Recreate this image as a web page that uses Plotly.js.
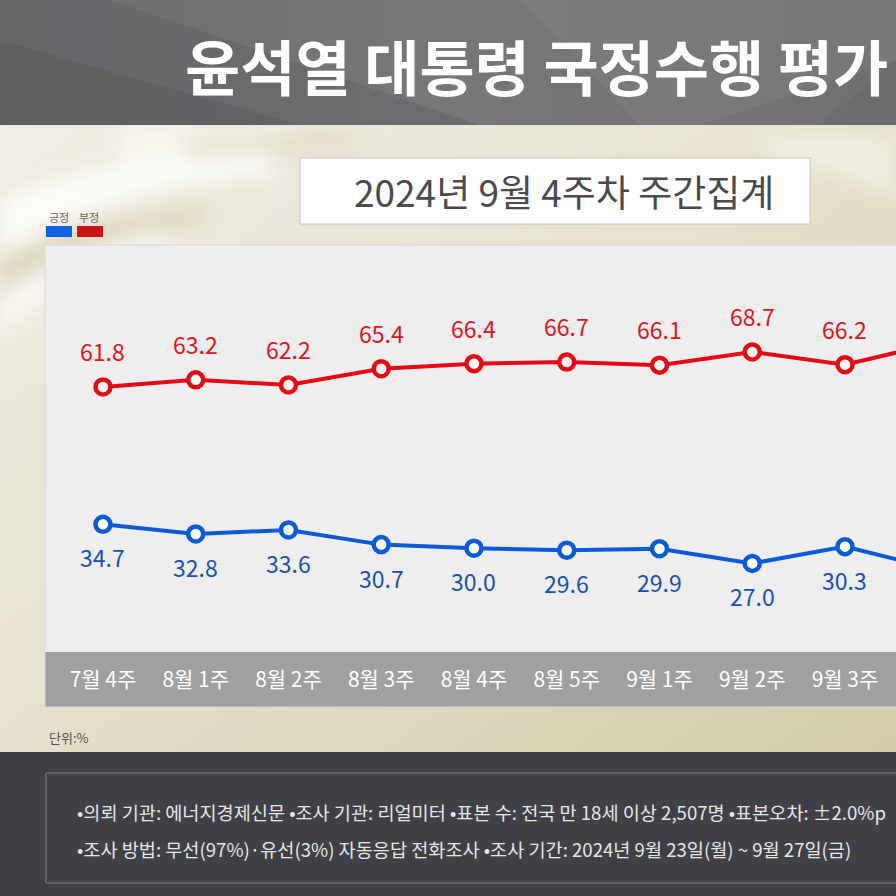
<!DOCTYPE html>
<html>
<head>
<meta charset="utf-8">
<script src="https://cdn.plot.ly/plotly-3.0.1.min.js"></script>
<style>
html,body{margin:0;padding:0;background:#404146;}
#chart{width:896px;height:896px;background-repeat:no-repeat;background-size:896px 896px;}
</style>
</head>
<body>
<div id="chart"></div>
<script>
// ---- data ----
const weeks = ['7월 4주','8월 1주','8월 2주','8월 3주','8월 4주','8월 5주','9월 1주','9월 2주','9월 3주','9월 4주'];
const positive = [34.7, 32.8, 33.6, 30.7, 30.0, 29.6, 29.9, 27.0, 30.3, 25.8];
const negative = [61.8, 63.2, 62.2, 65.4, 66.4, 66.7, 66.1, 68.7, 66.2, 70.5];
const seriesNames = ['긍정', '부정'];
const titleText = '윤석열 대통령 국정수행 평가';
const subtitleText = '2024년 9월 4주차 주간집계';
const unitText = '단위:%';
const noteLines = [
  '•의뢰 기관: 에너지경제신문 •조사 기관: 리얼미터 •표본 수: 전국 만 18세 이상 2,507명 •표본오차: ±2.0%p',
  '•조사 방법: 무선(97%)·유선(3%) 자동응답 전화조사 •조사 기간: 2024년 9월 23일(월) ~ 9월 27일(금)'
];

// ---- background artwork ----
const bgSvg = `<svg xmlns="http://www.w3.org/2000/svg" width="896" height="896" viewBox="0 0 896 896">
<defs>
<linearGradient id="g1" x1="0" y1="0" x2="1" y2="1">
<stop offset="0" stop-color="#f0ede3"/><stop offset="0.45" stop-color="#e7e2cf"/><stop offset="1" stop-color="#d3cca6"/></linearGradient>
<linearGradient id="t" x1="0" y1="0" x2="1" y2="0">
<stop offset="0" stop-color="#6c6c6e"/><stop offset="0.5" stop-color="#777779"/><stop offset="1" stop-color="#707072"/></linearGradient>
<filter id="b" x="-20%" y="-20%" width="140%" height="140%"><feGaussianBlur stdDeviation="10"/></filter>
</defs>
<rect y="125" width="896" height="630" fill="url(#g1)"/>
<g filter="url(#b)">
<path d="M0 200 Q120 150 260 150 L280 175 Q140 180 0 250 Z" fill="#ffffff" opacity="0.8"/>
<path d="M0 300 Q40 260 160 230 L170 250 Q60 280 0 340 Z" fill="#ffffff" opacity="0.6"/>
<path d="M120 125 L300 125 L260 150 Q180 150 120 170 Z" fill="#fbfaf4" opacity="0.7"/>
<path d="M0 260 Q80 220 200 205 L210 220 Q90 240 0 290 Z" fill="#cfc6a2" opacity="0.55"/>
<path d="M180 140 Q260 130 360 135 L360 150 Q260 150 190 160 Z" fill="#d6ceae" opacity="0.5"/>
<path d="M760 135 Q840 130 896 140 L896 200 Q840 170 770 160 Z" fill="#f7f5ec" opacity="0.6"/>
</g>
<rect width="896" height="125" fill="url(#t)"/>
<polygon points="0,0 110,0 480,125 0,125" fill="#5c5d61" opacity="0.35"/>
<polygon points="0,40 0,125 300,125" fill="#55565a" opacity="0.35"/>
<polygon points="520,0 896,0 896,60 700,125 640,125" fill="#8a8a8c" opacity="0.25"/>
<polygon points="820,125 896,60 896,125" fill="#5e5f63" opacity="0.3"/>
<rect y="752" width="896" height="144" fill="#404146"/>
</svg>`;
document.getElementById('chart').style.backgroundImage = 'url("data:image/svg+xml,' + encodeURIComponent(bgSvg) + '")';

// ---- geometry helpers (pixel -> paper) ----
const W = 896, H = 896;
const mL = 45, mR = 0, mT = 245, mB = 244;
const plotW = W - mL - mR, plotH = H - mT - mB;
const px = v => (v - mL) / plotW;
const py = v => (H - mB - v) / plotH;

const font = '"Noto Sans CJK KR", "Noto Sans", sans-serif';
const blue = '#0b5bd8', red = '#e60a14';
const blueText = '#1a4fb8', redText = '#e3141c';

const traces = [
  {
    x: weeks, y: negative, name: seriesNames[1], type: 'scatter', mode: 'lines+markers',
    line: {color: red, width: 4},
    marker: {size: 15, color: '#ffffff', line: {color: red, width: 4.5}},
    cliponaxis: true, hoverinfo: 'skip'
  },
  {
    x: weeks, y: positive, name: seriesNames[0], type: 'scatter', mode: 'lines+markers',
    line: {color: blue, width: 4},
    marker: {size: 15, color: '#ffffff', line: {color: blue, width: 4.5}},
    cliponaxis: true, hoverinfo: 'skip'
  }
];

const annotations = [];
weeks.forEach((w, i) => {
  annotations.push({x: w, y: negative[i], xref: 'x', yref: 'y', text: negative[i].toFixed(1),
    showarrow: false, yshift: 36, font: {family: font, size: 23, color: redText}});
  annotations.push({x: w, y: positive[i], xref: 'x', yref: 'y', text: positive[i].toFixed(1),
    showarrow: false, yshift: -33, font: {family: font, size: 23, color: blueText}});
});
annotations.push({xref: 'paper', yref: 'paper', x: px(183), y: py(64), xanchor: 'left', yanchor: 'middle',
  text: '<b>' + titleText + '</b>', showarrow: false, font: {family: font, size: 60, color: '#ffffff'}});
annotations.push({xref: 'paper', yref: 'paper', x: px(564), y: py(191), xanchor: 'center', yanchor: 'middle',
  text: subtitleText, showarrow: false, font: {family: font, size: 37, color: '#4a4a4a'}});
annotations.push({xref: 'paper', yref: 'paper', x: px(47), y: py(217), xanchor: 'left', yanchor: 'middle',
  text: seriesNames[0], showarrow: false, font: {family: font, size: 11, color: '#666'}});
annotations.push({xref: 'paper', yref: 'paper', x: px(77), y: py(217), xanchor: 'left', yanchor: 'middle',
  text: seriesNames[1], showarrow: false, font: {family: font, size: 11, color: '#666'}});
annotations.push({xref: 'paper', yref: 'paper', x: px(47), y: py(737), xanchor: 'left', yanchor: 'middle',
  text: unitText, showarrow: false, font: {family: font, size: 13, color: '#555'}});
noteLines.forEach((t, i) => {
  annotations.push({xref: 'paper', yref: 'paper', x: px(75), y: py(811 + i * 37), xanchor: 'left', yanchor: 'middle',
    text: t, showarrow: false, font: {family: font, size: 18.6, color: '#e6e6e6'}});
});

const shapes = [
  // category band
  {type: 'rect', xref: 'paper', yref: 'paper', x0: 0, x1: px(1000), y0: py(707), y1: py(652),
    fillcolor: '#a0a0a0', line: {width: 0}, layer: 'below'},
  // panel border
  {type: 'rect', xref: 'paper', yref: 'paper', x0: 0, x1: px(1000), y0: py(707), y1: 1,
    fillcolor: 'rgba(0,0,0,0)', line: {width: 1, color: '#d6d6d6'}},
  // subtitle box
  {type: 'rect', xref: 'paper', yref: 'paper', x0: px(300), x1: px(810), y0: py(224), y1: py(158),
    fillcolor: '#ffffff', line: {width: 1, color: '#c4c4c4'}, layer: 'below'},
  // legend swatches
  {type: 'rect', xref: 'paper', yref: 'paper', x0: px(46), x1: px(72), y0: py(237), y1: py(226),
    fillcolor: '#1062e4', line: {width: 0}},
  {type: 'rect', xref: 'paper', yref: 'paper', x0: px(77), x1: px(103), y0: py(237), y1: py(226),
    fillcolor: '#cc1414', line: {width: 0}},
  // note box
  {type: 'rect', xref: 'paper', yref: 'paper', x0: px(46), x1: px(1000), y0: py(883), y1: py(773),
    fillcolor: 'rgba(0,0,0,0)', line: {width: 1, color: '#7c7d80'}}
];

const layout = {
  width: W, height: H,
  margin: {l: mL, r: mR, t: mT, b: mB, pad: 0},
  paper_bgcolor: 'rgba(0,0,0,0)',
  plot_bgcolor: '#eeeeee',
  showlegend: false,
  xaxis: {
    type: 'category', range: [-0.625, 8.55], fixedrange: true,
    showgrid: false, zeroline: false, showline: false, ticks: '',
    ticklabelstandoff: 13,
    tickfont: {family: font, size: 21, color: '#ffffff'}
  },
  yaxis: {
    range: [9.52, 89.8], visible: false, fixedrange: true, showgrid: false, zeroline: false
  },
  annotations: annotations,
  shapes: shapes
};

Plotly.newPlot('chart', traces, layout, {staticPlot: true, displayModeBar: false});
</script>
</body>
</html>
